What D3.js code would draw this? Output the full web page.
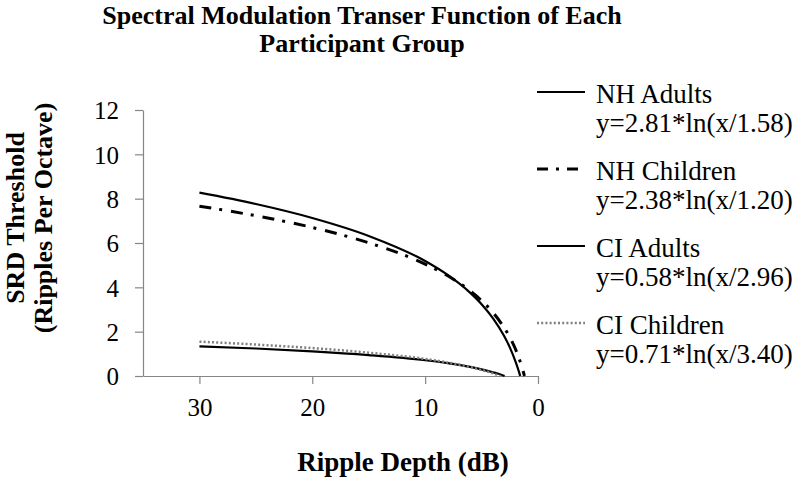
<!DOCTYPE html>
<html>
<head>
<meta charset="utf-8">
<script src="https://cdn.jsdelivr.net/npm/d3@7"></script>
<style>
  body { margin: 0; background: #fff; }
  svg text { font-family: "Liberation Serif", "Times New Roman", serif; }
</style>
</head>
<body>
<div id="chart"></div>
<script>
// values
const depths = {
    nhAdults:   [30, 25, 20, 15, 10, 8, 6, 5, 4, 3, 2.5, 2, 1.8, 1.7, 1.58],
    nhChildren: [30, 25, 20, 15, 10, 8, 6, 5, 4, 3, 2.5, 2, 1.6, 1.4, 1.3, 1.2],
    ciAdults:   [30, 25, 20, 15, 10, 8, 6, 5, 4, 3.5, 2.96],
    ciChildren: [30, 25, 20, 15, 10, 8, 6, 5, 4, 3.4]
};
const nhAdults   = [8.27, 7.76, 7.13, 6.32, 5.19, 4.56, 3.75, 3.24, 2.61, 1.80, 1.29, 0.66, 0.37, 0.21, 0];
const nhChildren = [7.66, 7.23, 6.70, 6.01, 5.05, 4.52, 3.83, 3.40, 2.87, 2.18, 1.75, 1.22, 0.68, 0.37, 0.19, 0];
const ciAdults   = [1.34, 1.24, 1.11, 0.94, 0.71, 0.58, 0.41, 0.30, 0.17, 0.10, 0];
const ciChildren = [1.55, 1.42, 1.26, 1.05, 0.77, 0.61, 0.40, 0.27, 0.12, 0];

const seriesNames = ["NH Adults", "NH Children", "CI Adults", "CI Children"];
const equations = ["y=2.81*ln(x/1.58)", "y=2.38*ln(x/1.20)", "y=0.58*ln(x/2.96)", "y=0.71*ln(x/3.40)"];
const xTicks = [30, 20, 10, 0];
const yTicks = [0, 2, 4, 6, 8, 10, 12];

const width = 800;
const height = 477;
const serif = "'Liberation Serif', 'Times New Roman', serif";

const series = [
    { name: seriesNames[0], eq: equations[0], x: depths.nhAdults, y: nhAdults,
      color: "#000", w: 2.2, dash: null },
    { name: seriesNames[1], eq: equations[1], x: depths.nhChildren, y: nhChildren,
      color: "#000", w: 3, dash: "12,8,3,9" },
    { name: seriesNames[2], eq: equations[2], x: depths.ciAdults, y: ciAdults,
      color: "#000", w: 2.2, dash: null },
    { name: seriesNames[3], eq: equations[3], x: depths.ciChildren, y: ciChildren,
      color: "#808080", w: 2.5, dash: "2,2.2" }
];

const svg = d3.select("#chart")
    .append("svg")
    .attr("width", width)
    .attr("height", height);

const xScale = d3.scaleLinear().domain([35, 0]).range([143, 538]);
const yScale = d3.scaleLinear().domain([0, 12]).range([376, 110]);

// axes
const axisColor = "#868686";

const xAxis = svg.append("g")
    .attr("transform", `translate(0, ${yScale(0)})`)
    .call(d3.axisBottom(xScale).tickValues(xTicks).tickSize(8).tickSizeOuter(0).tickPadding(14));

const yAxis = svg.append("g")
    .attr("transform", `translate(${xScale(35)}, 0)`)
    .call(d3.axisLeft(yScale).tickValues(yTicks).tickSize(8).tickSizeOuter(0).tickPadding(16));

[xAxis, yAxis].forEach(g => {
    g.attr("font-family", serif);
    g.select(".domain").attr("stroke", axisColor).attr("stroke-width", 1.2);
    g.selectAll(".tick line").attr("stroke", axisColor).attr("stroke-width", 1.2);
    g.selectAll(".tick text")
        .attr("fill", "#000")
        .style("font-size", "25px")
        .style("font-family", serif);
});
yAxis.selectAll(".tick text").attr("dy", "0.35em");

// curves
const line = d3.line()
    .x(d => xScale(d[0]))
    .y(d => yScale(d[1]))
    .curve(d3.curveMonotoneX);

series.forEach(s => {
    const pts = s.x.map((x, i) => [x, s.y[i]]);
    svg.append("path")
        .attr("d", line(pts))
        .attr("fill", "none")
        .attr("stroke", s.color)
        .attr("stroke-width", s.w)
        .attr("stroke-dasharray", s.dash);
});

// legend
const legend = svg.append("g");
series.forEach((s, i) => {
    const y0 = 92 + i * 77;
    legend.append("line")
        .attr("x1", 537).attr("x2", 585)
        .attr("y1", y0).attr("y2", y0)
        .attr("stroke", s.color)
        .attr("stroke-width", s.w)
        .attr("stroke-dasharray", s.dash ? (i === 1 ? "11,8,3,8" : s.dash) : null);
    legend.append("text")
        .attr("x", 596).attr("y", y0 + 11)
        .style("font-size", "27px")
        .text(s.name);
    legend.append("text")
        .attr("x", 596).attr("y", y0 + 40)
        .style("font-size", "27px")
        .text(s.eq);
});

// titles
const title = svg.append("text")
    .attr("text-anchor", "middle")
    .style("font-size", "26px")
    .style("font-weight", "bold");
title.append("tspan").attr("x", 362).attr("y", 24).text("Spectral Modulation Transer Function of Each");
title.append("tspan").attr("x", 362).attr("y", 52).text("Participant Group");

svg.append("text")
    .attr("x", 403)
    .attr("y", 471)
    .attr("text-anchor", "middle")
    .style("font-size", "27px")
    .style("font-weight", "bold")
    .text("Ripple Depth (dB)");

const yTitle = svg.append("text")
    .attr("transform", "rotate(-90)")
    .attr("text-anchor", "middle")
    .style("font-size", "26px")
    .style("font-weight", "bold");
yTitle.append("tspan").attr("x", -218).attr("y", 24).text("SRD Threshold");
yTitle.append("tspan").attr("x", -218).attr("y", 52).text("(Ripples Per Octave)");
</script>
</body>
</html>
